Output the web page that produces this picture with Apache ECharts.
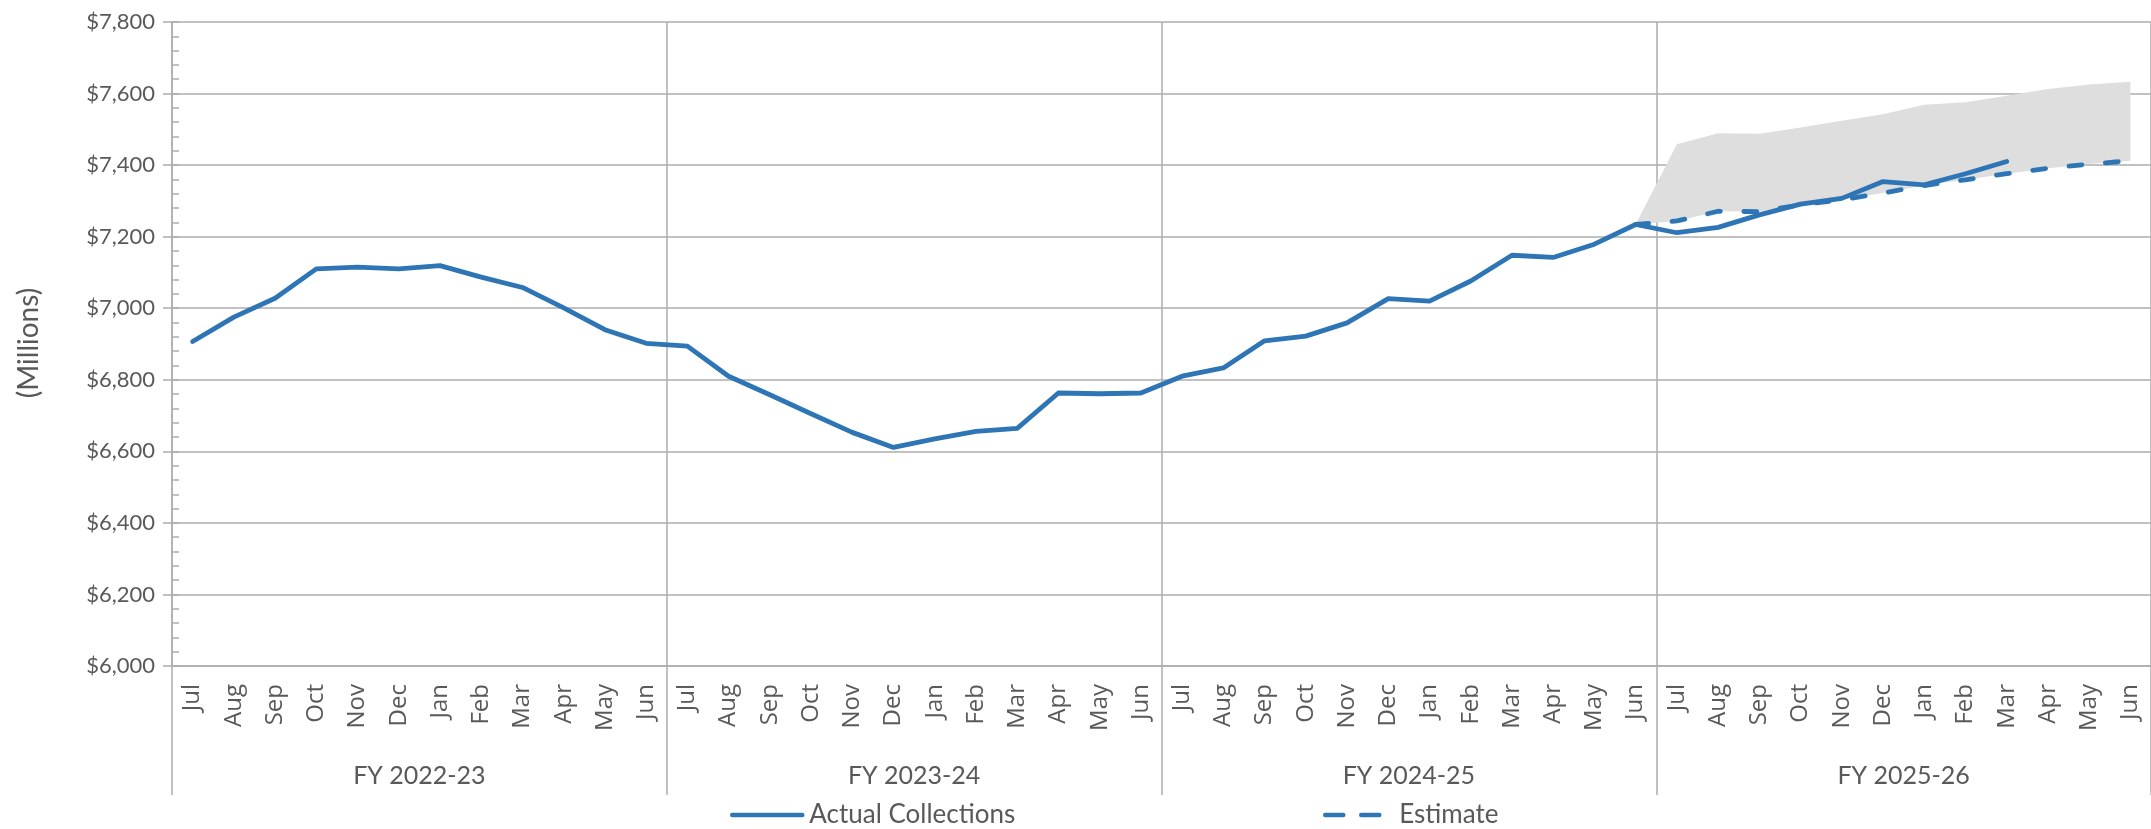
<!DOCTYPE html>
<html>
<head>
<meta charset="utf-8">
<script src="https://cdn.jsdelivr.net/npm/echarts@6/dist/echarts.min.js"></script>
<style>
html,body{margin:0;padding:0;background:#fff;}
#chart{width:2151px;height:829px;}
</style>
</head>
<body>
<div id="chart"></div>
<script>
// ---- data ----
const months = ['Jul','Aug','Sep','Oct','Nov','Dec','Jan','Feb','Mar','Apr','May','Jun',
                'Jul','Aug','Sep','Oct','Nov','Dec','Jan','Feb','Mar','Apr','May','Jun',
                'Jul','Aug','Sep','Oct','Nov','Dec','Jan','Feb','Mar','Apr','May','Jun',
                'Jul','Aug','Sep','Oct','Nov','Dec','Jan','Feb','Mar','Apr','May','Jun'];
const fiscalYears = ['FY 2022-23','FY 2023-24','FY 2024-25','FY 2025-26'];
const yTicks = [6000, 7800, 200]; // min, max, step

const actual = [
  6907, 6975, 7028, 7110, 7115, 7110, 7119, 7087, 7058, 7001, 6940, 6902,
  6894, 6810, 6758, 6705, 6653, 6611, 6635, 6656, 6664, 6763, 6761, 6763,
  6810, 6833, 6909, 6922, 6959, 7027, 7020, 7076, 7148, 7142, 7179, 7234,
  7211, 7226, 7261, 7291, 7307, 7354, 7345, 7376, 7410, null, null, null
];
const estimate = [
  null,null,null,null,null,null,null,null,null,null,null,null,
  null,null,null,null,null,null,null,null,null,null,null,null,
  null,null,null,null,null,null,null,null,null,null,null,7234,
  7244, 7271, 7270, 7289, 7303, 7322, 7343, 7359, 7376, 7391, 7403, 7412
];
const bandUpper = [
  null,null,null,null,null,null,null,null,null,null,null,null,
  null,null,null,null,null,null,null,null,null,null,null,null,
  null,null,null,null,null,null,null,null,null,null,null,7234,
  7458, 7489, 7488, 7505, 7524, 7542, 7569, 7576, 7594, 7613, 7625, 7633
];
const bandLower = estimate;

// ---- derived ----
const bandBase = bandLower.map(v => v == null ? '-' : v);
const bandHeight = bandUpper.map((v, i) => (v == null || bandLower[i] == null) ? '-' : v - bandLower[i]);
const toSeries = a => a.map(v => v == null ? '-' : v);

const gray = '#adadad';
const txt = '#595959';
const blue = '#2e75b6';
const calibriLike = 'Lato';

const chart = echarts.init(document.getElementById('chart'), null, {renderer: 'canvas'});
chart.setOption({
  animation: false,
  backgroundColor: '#ffffff',
  grid: {left: 172, top: 22, width: 1980, height: 644, containLabel: false},
  xAxis: [
    {
      type: 'category', data: months, boundaryGap: true,
      axisLine: {show: true, lineStyle: {color: gray, width: 1.5}},
      axisTick: {show: false},
      splitLine: {show: false},
      axisLabel: {interval: 0, rotate: 90, margin: 18, color: txt,
                  fontFamily: 'Open Sans', fontSize: 24}
    },
    {
      type: 'category', data: fiscalYears, boundaryGap: true, position: 'bottom',
      axisLine: {show: false},
      axisTick: {show: true, length: 129, lineStyle: {color: gray, width: 1.5}},
      splitLine: {show: true, lineStyle: {color: gray, width: 1.5}},
      axisLabel: {interval: 0, margin: 97, color: txt, fontFamily: calibriLike, fontSize: 25}
    }
  ],
  yAxis: [
    {
      type: 'value', min: yTicks[0], max: yTicks[1], interval: yTicks[2],
      axisLine: {show: true, lineStyle: {color: gray, width: 1.5}},
      axisTick: {show: true, inside: false, length: 9, lineStyle: {color: gray, width: 1.5}},
      splitLine: {show: true, lineStyle: {color: gray, width: 1.5}},
      axisLabel: {margin: 17, color: txt, fontFamily: calibriLike, fontSize: 22,
                  formatter: v => '$' + v.toLocaleString('en-US')}
    },
    {
      type: 'value', min: yTicks[0], max: yTicks[1], interval: yTicks[2], position: 'left',
      axisLine: {show: false},
      axisLabel: {show: false},
      splitLine: {show: false},
      axisTick: {show: true, inside: true, length: 7, lineStyle: {color: gray, width: 1.5}},
      minorTick: {show: true, splitNumber: 5, length: 7, lineStyle: {color: gray, width: 1.5}}
    }
  ],
  legend: [
    {
      data: ['Actual Collections'], left: 730, top: 802, padding: 0,
      itemWidth: 70, itemHeight: 14,
      itemStyle: {opacity: 0},
      lineStyle: {width: 4.5, cap: 'round'},
      textStyle: {color: txt, fontFamily: calibriLike, fontSize: 26, padding: [0,0,0,2]}
    },
    {
      data: ['Estimate'], left: 1323, top: 802, padding: 0,
      itemWidth: 55, itemHeight: 14,
      itemStyle: {opacity: 0},
      lineStyle: {width: 4.5, cap: 'round', type: [18, 18]},
      textStyle: {color: txt, fontFamily: calibriLike, fontSize: 26, padding: [0,0,0,14]}
    }
  ],
  graphic: [
    {type: 'text', x: 29, y: 343, rotation: Math.PI / 2,
     style: {text: '(Millions)', fill: txt, font: '28px Lato', align: 'center', verticalAlign: 'middle'}}
  ],
  series: [
    {
      name: 'bandBase', type: 'line', stack: 'band', data: bandBase,
      symbol: 'none', lineStyle: {width: 0, opacity: 0}, silent: true, z: 1
    },
    {
      name: 'band', type: 'line', stack: 'band', data: bandHeight,
      symbol: 'none', lineStyle: {width: 0, opacity: 0},
      areaStyle: {color: '#dedede', opacity: 1}, silent: true, z: 1
    },
    {
      name: 'Actual Collections', type: 'line', data: toSeries(actual),
      symbol: 'none', lineStyle: {color: blue, width: 4.8, cap: 'round', join: 'round'},
      itemStyle: {color: blue}, z: 3
    },
    {
      name: 'Estimate', type: 'line', data: toSeries(estimate),
      symbol: 'none',
      lineStyle: {color: blue, width: 4.8, type: [13, 23.5], cap: 'round', join: 'round'},
      itemStyle: {color: blue}, z: 4
    }
  ]
});
</script>
</body>
</html>
